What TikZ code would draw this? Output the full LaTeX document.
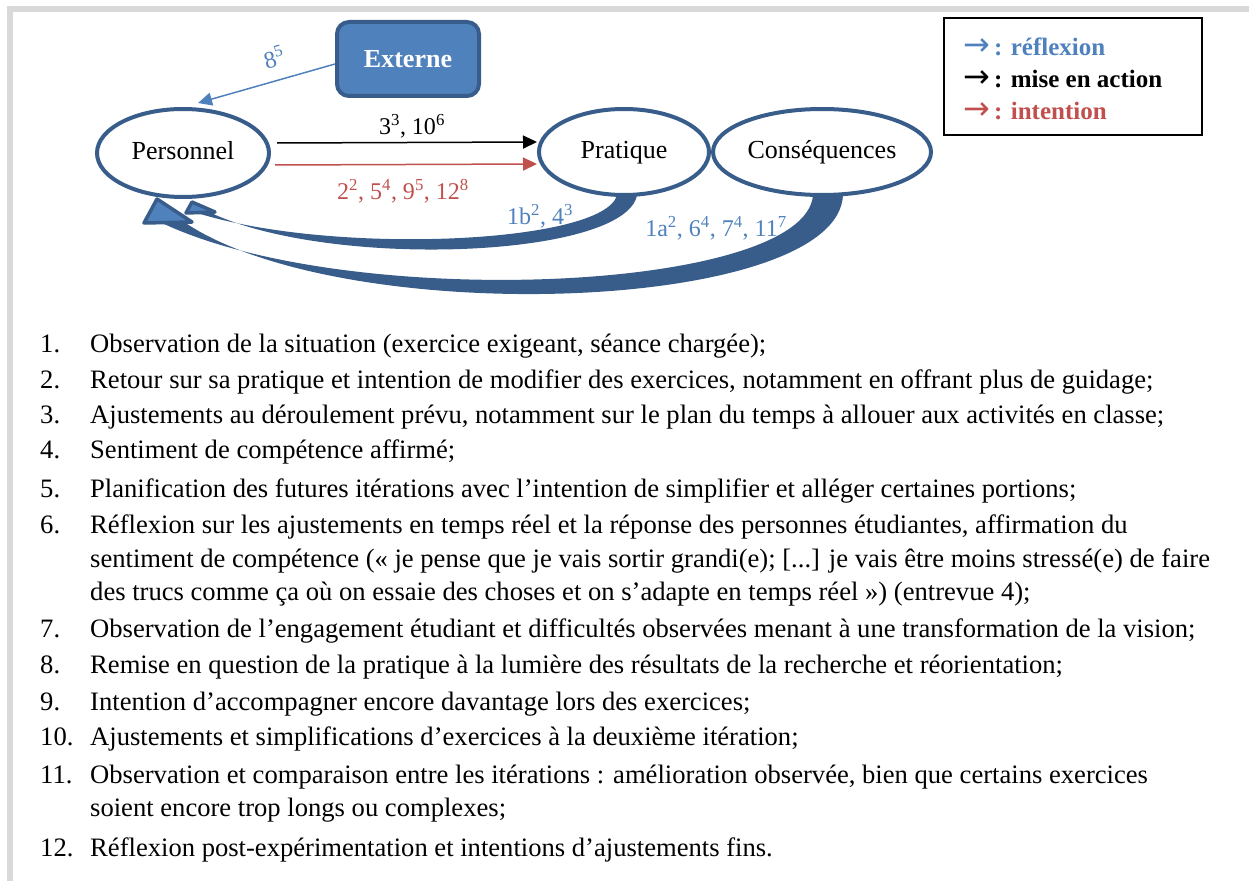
\documentclass[tikz,border=0pt]{standalone}
\usepackage{fontspec}
\setmainfont{Liberation Serif}
\newfontfamily\arrowfont{DejaVu Sans}
\usetikzlibrary{arrows.meta,shapes.geometric}
\definecolor{dblue}{HTML}{385D8A}
\definecolor{mblue}{HTML}{4F81BD}
\definecolor{dred}{HTML}{C0504D}
\definecolor{framegray}{HTML}{D9D9D9}
\begin{document}
\begin{tikzpicture}[x=1pt,y=-1pt,
  ell/.style={draw=dblue, line width=4pt, ellipse, inner sep=0pt, text height=17pt, text depth=5pt, font=\fontsize{26}{30}\selectfont},
  lbl/.style={font=\fontsize{24}{28}\selectfont, inner sep=0pt},
  item/.style={font=\fontsize{26.6}{30}\selectfont, inner sep=0pt, anchor=base west},
  leg/.style={font=\bfseries\fontsize{25}{29}\selectfont, inner sep=0pt, anchor=base west},
  band/.style={fill=dblue},
  head/.style={fill=mblue, draw=dblue, line width=3.5pt, line join=round},
  thinarr/.style={line width=1.5pt, -{Triangle[length=14pt,width=13pt]}}
]
\useasboundingbox (0,0) rectangle (1249,880);
% frame
\draw[framegray, line width=6pt] (9.5,883) -- (9.5,9) -- (1252,9);

% nodes
\node[draw=dblue, fill=mblue, line width=4pt, rounded corners=12pt, minimum width=142pt, minimum height=74pt, inner sep=0pt,
  text=white, font=\bfseries\fontsize{26}{30}\selectfont] (ex) at (408,59) {Externe};
\node[ell, minimum width=172pt, minimum height=88pt] (pe) at (183,153) {Personnel};
\node[ell, minimum width=170pt, minimum height=86pt] (pr) at (624,152) {Pratique};
\node[ell, minimum width=218pt, minimum height=86pt] (co) at (822,152) {Conséquences};

% legend
\node[draw=black, line width=1.8pt, minimum width=258pt, minimum height=117pt, inner sep=0pt] (lg) at (1073,76.5) {};
\node[leg, text=mblue] (l1) at (963,56) {{\arrowfont\mdseries\fontsize{32}{32}\selectfont →}\,: réflexion};
\node[leg, text=black] (l2) at (963,88) {{\arrowfont\mdseries\fontsize{32}{32}\selectfont →}\,: mise en action};
\node[leg, text=dred] (l3) at (963,120) {{\arrowfont\mdseries\fontsize{32}{32}\selectfont →}\,: intention};

% straight connectors
\draw[thinarr, mblue] ([yshift=-5pt]ex.west) -- ([xshift=15pt,yshift=4pt]pe.north);
\node[lbl, text=mblue, rotate=16] (lab8) at (274,57) {8\textsuperscript{5}};
\draw[thinarr, black] ([xshift=6pt,yshift=10pt]pe.east) -- ([yshift=10pt]pr.west);
\node[lbl] (lab3) at (412,126) {3\textsuperscript{3}, 10\textsuperscript{6}};
\draw[thinarr, dred] ([xshift=4pt,yshift=-12pt]pe.east) -- ([yshift=-12pt]pr.west);
\node[lbl, text=dred] (lab2) at (403,191) {2\textsuperscript{2}, 5\textsuperscript{4}, 9\textsuperscript{5}, 12\textsuperscript{8}};

% curved block arrows (réflexion)
\fill[band] (813,195) -- (843,195) .. controls (838,312) and (350,330) .. (187,224)
   -- (162,223) .. controls (350,312) and (806,292) .. (813,195) -- cycle;
\draw[head] (157,199) -- (144,223) -- (192,222) -- cycle;
\fill[band] (617,195) -- (637,195) .. controls (626,258) and (330,270) .. (209,212)
   -- (194,212) .. controls (330,256) and (605,244) .. (617,195) -- cycle;
\draw[head] (192,202) -- (186,213) -- (215,212) -- cycle;
\node[lbl, text=mblue] (lab1b) at (540,216) {1b\textsuperscript{2}, 4\textsuperscript{3}};
\node[lbl, text=mblue] (lab1a) at (716,228) {1a\textsuperscript{2}, 6\textsuperscript{4}, 7\textsuperscript{4}, 11\textsuperscript{7}};

% list
\node[item] (n1) at (40,352) {1.};   \node[item] (t1) at (90,352) {Observation de la situation (exercice exigeant, séance chargée);};
\node[item] (n2) at (40,388) {2.};   \node[item] (t2) at (90,388) {Retour sur sa pratique et intention de modifier des exercices, notamment en offrant plus de guidage;};
\node[item] (n3) at (40,423) {3.};   \node[item] (t3) at (90,423) {Ajustements au déroulement prévu, notamment sur le plan du temps à allouer aux activités en classe;};
\node[item] (n4) at (40,458) {4.};   \node[item] (t4) at (90,458) {Sentiment de compétence affirmé;};
\node[item] (n5) at (40,497) {5.};   \node[item] (t5) at (90,497) {Planification des futures itérations avec l’intention de simplifier et alléger certaines portions;};
\node[item] (n6) at (40,533) {6.};   \node[item] (t6a) at (90,533) {Réflexion sur les ajustements en temps réel et la réponse des personnes étudiantes, affirmation du};
\node[item] (t6b) at (90,567) {sentiment de compétence (« je pense que je vais sortir grandi(e); [...] je vais être moins stressé(e) de faire};
\node[item] (t6c) at (90,600) {des trucs comme ça où on essaie des choses et on s’adapte en temps réel ») (entrevue 4);};
\node[item] (n7) at (40,637) {7.};   \node[item] (t7) at (90,637) {Observation de l’engagement étudiant et difficultés observées menant à une transformation de la vision;};
\node[item] (n8) at (40,673) {8.};   \node[item] (t8) at (90,673) {Remise en question de la pratique à la lumière des résultats de la recherche et réorientation;};
\node[item] (n9) at (40,710) {9.};   \node[item] (t9) at (90,710) {Intention d’accompagner encore davantage lors des exercices;};
\node[item] (n10) at (40,745) {10.}; \node[item] (t10) at (90,745) {Ajustements et simplifications d’exercices à la deuxième itération;};
\node[item] (n11) at (40,783) {11.}; \node[item] (t11a) at (90,783) {Observation et comparaison entre les itérations : amélioration observée, bien que certains exercices};
\node[item] (t11b) at (90,816) {soient encore trop longs ou complexes;};
\node[item] (n12) at (40,856) {12.}; \node[item] (t12) at (90,856) {Réflexion post-expérimentation et intentions d’ajustements fins.};
\end{tikzpicture}
\end{document}
